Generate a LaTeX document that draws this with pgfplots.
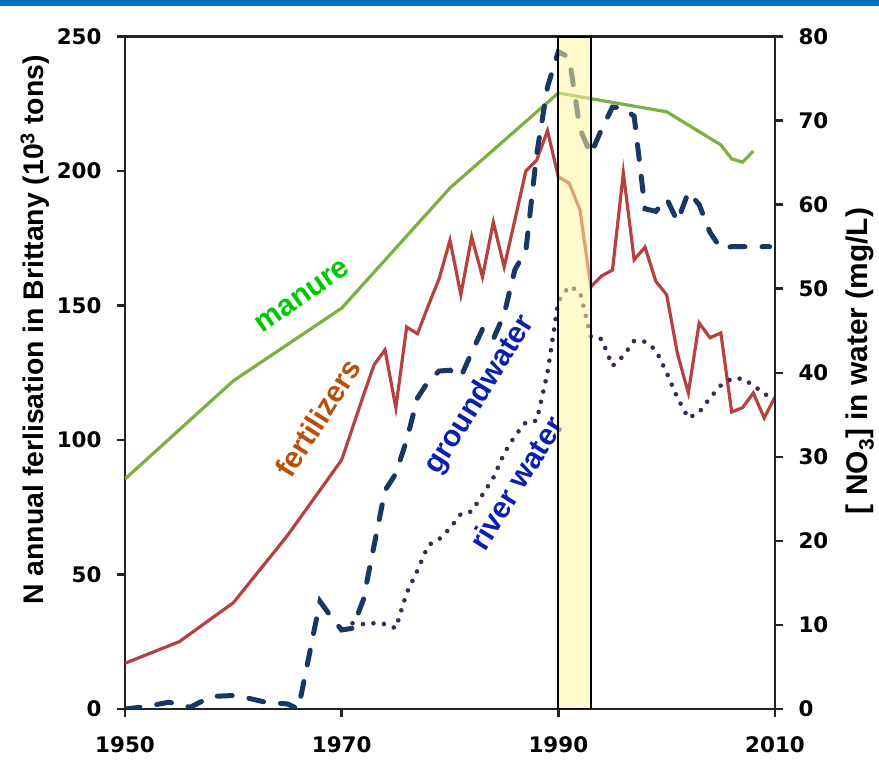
\documentclass[border=0pt]{standalone}
\usepackage{fontspec}
\setmainfont{Liberation Sans}
\newfontfamily\tickfont{DejaVu Sans}
\usepackage{pgfplots}
\pgfplotsset{compat=1.18}
\definecolor{manurecol}{RGB}{125,175,65}
\definecolor{fertcol}{RGB}{182,66,64}
\definecolor{gwcol}{RGB}{25,55,100}
\definecolor{rivercol}{RGB}{60,40,85}
\definecolor{bandfill}{RGB}{255,244,160}
\definecolor{topblue}{RGB}{0,112,192}
\definecolor{axiscol}{RGB}{35,35,35}
\definecolor{manuretxt}{RGB}{0,200,0}
\definecolor{ferttxt}{RGB}{185,80,10}
\definecolor{bluetxt}{RGB}{10,30,175}
\begin{document}
\begin{tikzpicture}
\path[use as bounding box] (0,0) rectangle (879bp,771bp);
\fill[topblue] (0,765bp) rectangle (879bp,771bp);
\pgfplotsset{
  common/.style={
    at={(125bp,62bp)}, anchor=south west,
    scale only axis, width=650bp, height=672.5bp,
    xmin=1950, xmax=2010,
    axis line style={draw=axiscol, line width=2.6bp},
    tick align=outside, major tick length=8bp,
    every tick/.style={draw=axiscol, line width=2.4bp},
    tick label style={font=\tickfont\bfseries\fontsize{21.5}{25}\selectfont, text=black},
    /pgf/number format/1000 sep={}, /pgf/number format/assume math mode=true,
  }
}
\begin{axis}[common,
  ymin=0, ymax=250,
  xtick={1950,1970,1990,2010}, ytick={0,50,...,250},
  tick pos=left,
  xticklabel shift=16bp, yticklabel shift=12bp,
]
\addplot[manurecol, line width=3.2bp] coordinates {
(1950,85.5) (1960,122) (1970,149) (1980,193.7) (1990,229) (2000,222)
(2005,209.7) (2006,204.5) (2007,203.3) (2008,207.4)};
\addplot[fertcol, line width=3.2bp] coordinates {
(1950,17) (1955,25) (1960,39.5) (1965,64.5) (1970,92.6) (1971,104.5) (1972,116.5)
(1973,128) (1974,133.5) (1975,112) (1976,142) (1977,139.5) (1978,150) (1979,160)
(1980,174.3) (1981,154) (1982,175.5) (1983,160.6) (1984,181) (1985,164.3)
(1986,182) (1987,200) (1988,204) (1989,215) (1990,197.8) (1991,195.5)
(1992,185.5) (1993,157) (1994,161) (1995,163.2) (1996,199.3) (1997,167)
(1998,171.7) (1999,159) (2000,154) (2001,132) (2002,117.5) (2003,143.5)
(2004,138) (2005,139.8) (2006,110.4) (2007,112) (2008,117.5) (2009,108.2) (2010,116)};
\node[rotate=35, text=manuretxt, font=\bfseries\fontsize{30}{36}\selectfont] at (axis cs:1966.4,153.5) {manure};
\node[rotate=58, text=ferttxt, font=\bfseries\fontsize{30}{36}\selectfont] at (axis cs:1967.8,108.2) {fertilizers};
\node[rotate=58, text=bluetxt, font=\bfseries\fontsize{30}{36}\selectfont] at (axis cs:1982.8,116.7) {groundwater};
\node[rotate=58, text=bluetxt, font=\bfseries\fontsize{30}{36}\selectfont] at (axis cs:1986.1,84) {river water};
\end{axis}
\begin{axis}[common,
  ymin=0, ymax=80,
  axis x line=none, axis y line*=right,
  ytick={0,10,...,80},
  yticklabel shift=12bp,
]
\addplot[gwcol, line width=5bp, line cap=round, dash pattern=on 15bp off 17bp] coordinates {
(1950,0) (1952,0.3) (1954,0.8) (1955,0.6) (1956,0.2) (1958,1.5) (1960,1.6) (1961,1.4)
(1963,0.8) (1965,0.6) (1966,0) (1968,12.8) (1969,11) (1970,9.4) (1971,9.6) (1972,13)
(1973,19.5) (1974,26) (1975,28) (1976,32) (1977,37) (1978,39) (1979,40.2) (1980,40.3)
(1981,39.5) (1982,42.4) (1983,45.2) (1984,44) (1985,47) (1986,52.3) (1987,54.5)
(1988,66) (1989,74) (1990,78.2) (1991,77.5) (1992,69) (1993,66) (1994,69)
(1995,71.6) (1996,71.5) (1997,70.5) (1998,59.5) (1999,59.2) (2000,60.7) (2001,58)
(2002,61.5) (2003,60) (2004,56.7) (2005,54.8) (2006,55) (2007,55) (2008,55) (2009,55) (2009.5,55)};
\addplot[rivercol, line width=4.6bp, line cap=round, dash pattern=on 0bp off 10.5bp] coordinates {
(1971,10.2) (1972,10.1) (1973,10.2) (1974,10.1) (1975,9.6) (1976,13.8) (1977,16.5)
(1978,19.5) (1979,20.2) (1980,21.5) (1981,23.2) (1982,23.5) (1983,25.5) (1984,27.5)
(1985,30.4) (1986,32.5) (1987,34.1) (1988,34.3) (1989,40) (1990,48.5) (1991,50.3)
(1992,49.6) (1993,44.3) (1994,44) (1995,40.8) (1996,42) (1997,43.8) (1998,43.7)
(1999,42.7) (2000,40) (2001,37) (2002,34.6) (2003,35.3) (2004,37) (2005,38.5)
(2006,39.3) (2007,39.3) (2008,38.5) (2009,37.5) (2010,36.8)};
\fill[bandfill, fill opacity=0.55] (axis cs:1990,0) rectangle (axis cs:1993,80);
\draw[black, line width=2.2bp] (axis cs:1990,0) rectangle (axis cs:1993,80);
\end{axis}
\node[rotate=90, font=\bfseries\fontsize{28.5}{34}\selectfont] at (35bp,441bp) {N annual ferlisation in Brittany (10\textsuperscript{3} tons)};
\node[rotate=90, font=\bfseries\fontsize{30}{36}\selectfont] at (860bp,410bp) {[ NO\textsubscript{3}] in water (mg/L)};
\end{tikzpicture}
\end{document}
